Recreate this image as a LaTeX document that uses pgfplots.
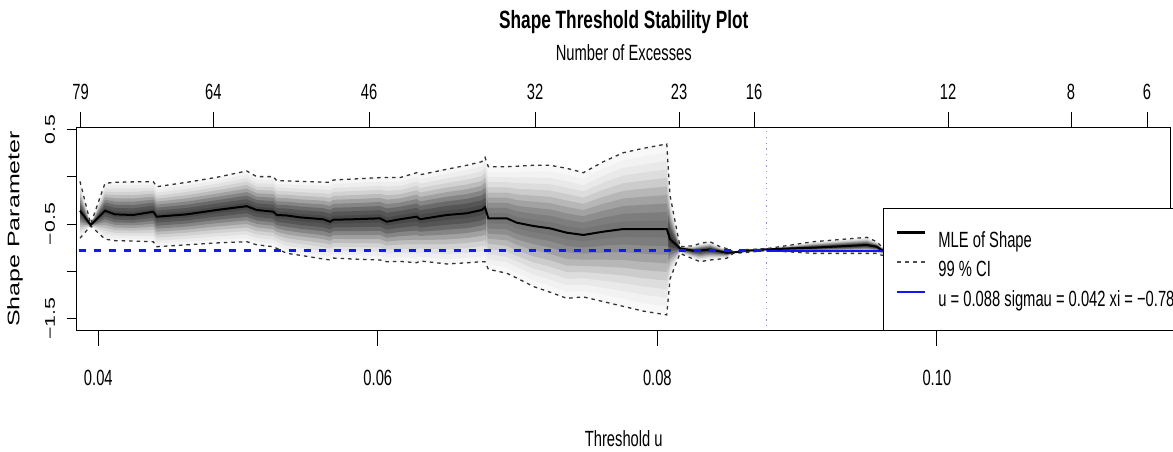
\documentclass[border=0pt]{standalone}
\usepackage{fontspec}
\setmainfont{Liberation Sans}
\newfontfamily\narrowfont{Liberation Sans}[FakeStretch=0.67]
\newfontfamily\titlefont{Liberation Sans}[FakeStretch=0.69]
\usepackage{graphicx}
\usepackage{xcolor}
\usepackage{pgfplots}
\pgfplotsset{compat=1.18}
\usepackage{pgfplotstable}
\usepgfplotslibrary{fillbetween}

\definecolor{rblue}{RGB}{20,20,255}
\definecolor{vline}{RGB}{140,140,255}
\newcommand\lab{\narrowfont\fontsize{22}{26}\selectfont}
\newcommand\rot[1]{\scalebox{1}[0.66]{#1}}

% threshold, MLE of shape, lower and upper 99% CI
\pgfplotstableread{
u m lo hi
0.038691 -0.360 -0.650 -0.050
0.039456 -0.510 -0.520 -0.500
0.040479 -0.360 -0.660 -0.070
0.041195 -0.398 -0.676 -0.060
0.042483 -0.405 -0.680 -0.055
0.043936 -0.370 -0.687 -0.053
0.044179 -0.423 -0.740 -0.106
0.046326 -0.398 -0.720 -0.060
0.048472 -0.352 -0.700 -0.007
0.050619 -0.312 -0.687 0.060
0.051335 -0.352 -0.720 0.000
0.052522 -0.370 -0.740 0.000
0.052766 -0.405 -0.757 -0.043
0.053481 -0.410 -0.810 -0.045
0.054433 -0.430 -0.830 -0.050
0.056100 -0.450 -0.870 -0.058
0.056580 -0.476 -0.880 -0.060
0.056816 -0.455 -0.860 -0.035
0.058247 -0.450 -0.870 -0.025
0.060157 -0.440 -0.880 -0.010
0.060637 -0.476 -0.898 -0.010
0.061589 -0.450 -0.895 -0.010
0.062784 -0.423 -0.909 0.042
0.063020 -0.450 -0.890 0.020
0.064930 -0.405 -0.922 0.078
0.066361 -0.387 -0.910 0.120
0.067435 -0.352 -0.898 0.158
0.067671 -0.324 -0.900 0.204
0.067907 -0.440 -0.978 0.105
0.069224 -0.440 -1.020 0.105
0.069939 -0.486 -1.070 0.110
0.071127 -0.521 -1.160 0.120
0.072322 -0.546 -1.220 0.120
0.073517 -0.592 -1.285 0.088
0.074705 -0.616 -1.270 0.042
0.076136 -0.581 -1.320 0.158
0.077567 -0.553 -1.370 0.253
0.078998 -0.553 -1.420 0.299
0.080673 -0.553 -1.460 0.345
0.080909 -0.660 -1.080 -0.200
0.081624 -0.757 -0.810 -0.740
0.082576 -0.782 -0.870 -0.730
0.083055 -0.780 -0.898 -0.705
0.083771 -0.770 -0.880 -0.687
0.084487 -0.790 -0.870 -0.740
0.084966 -0.803 -0.862 -0.760
0.085438 -0.800 -0.810 -0.792
0.086397 -0.782 -0.800 -0.770
0.087828 -0.767 -0.780 -0.760
0.091163 -0.750 -0.810 -0.687
0.094984 -0.722 -0.810 -0.641
0.095700 -0.740 -0.810 -0.687
0.096057 -0.775 -0.830 -0.740
0.097367 -0.780 -0.850 -0.710
0.100945 -0.770 -0.860 -0.680
0.104522 -0.780 -0.900 -0.660
}\data

% band boundaries: fraction of the distance from the MLE to the CI limits
\newcommand\bandpath[2]{%
  \addplot[draw=none, forget plot, name path=u#1] table[x=u, y expr=\thisrow{m}+#2*(\thisrow{hi}-\thisrow{m})] {\data};
  \addplot[draw=none, forget plot, name path=l#1] table[x=u, y expr=\thisrow{m}-#2*(\thisrow{m}-\thisrow{lo})] {\data};}
% one grey band (#1) between thresholds #2 and #3, darkness #4
\newcommand\greyband[4]{%
  \addplot[fill=black!#4, draw=none, forget plot] fill between[of=u#1 and l#1, soft clip={(axis cs:#2,-2) rectangle (axis cs:#3,1)}];}

\begin{document}
\begin{tikzpicture}

\begin{axis}[
  at={(0,0)}, anchor=south west,
  scale only axis, width=1094pt, height=203.4pt,
  xmin=0.038454, xmax=0.116737, ymin=-1.6267, ymax=0.5211,
  axis line style={line width=1.3pt},
  xtick=\empty,
  ytick={-1.5,-1,-0.5,0,0.5},
  yticklabels={\rot{−1.5},{},\rot{−0.5},{},\rot{0.5}},
  ytick pos=left, tick align=outside, major tick length=10pt,
  tick style={black, line width=0.8pt},
  yticklabel style={font=\fontsize{21.3}{25}\selectfont, xshift=-11.7pt, rotate=90, anchor=base},
  ylabel={\scalebox{1}[0.67]{Shape Parameter}},
  ylabel style={font=\fontsize{25}{30}\selectfont, at={(axis description cs:-0.0564,0.5)}, anchor=center},
  legend style={at={(0.737,0)}, anchor=south west, line width=0.8pt, fill=white,
    inner xsep=12pt, inner ysep=16.5pt, row sep=0pt, column sep=12pt, font=\lab,
    nodes={inner sep=0pt, text height=22pt, text depth=7.5pt}},
  legend cell align=left,
  legend image code/.code={\draw[#1] (0pt,7.5pt) -- (28pt,7.5pt);},
]
\bandpath{1}{1.0}
\bandpath{2}{0.9}
\bandpath{3}{0.8}
\bandpath{4}{0.7}
\bandpath{5}{0.6}
\bandpath{6}{0.5}
\bandpath{7}{0.4}
\bandpath{8}{0.3}
\bandpath{9}{0.2}
\bandpath{10}{0.1}
\greyband{1}{0.0384}{0.0678}{3.6}\greyband{2}{0.0384}{0.0678}{6.6}\greyband{3}{0.0384}{0.0678}{11.2}\greyband{4}{0.0384}{0.0678}{17.7}\greyband{5}{0.0384}{0.0678}{26.4}
\greyband{6}{0.0384}{0.0678}{36.8}\greyband{7}{0.0384}{0.0678}{48.0}\greyband{8}{0.0384}{0.0678}{58.5}\greyband{9}{0.0384}{0.0678}{66.8}\greyband{10}{0.0384}{0.0678}{71.4}
\greyband{1}{0.0678}{0.08079}{2.8}\greyband{2}{0.0678}{0.08079}{5.0}\greyband{3}{0.0678}{0.08079}{8.5}\greyband{4}{0.0678}{0.08079}{13.5}\greyband{5}{0.0678}{0.08079}{20.1}
\greyband{6}{0.0678}{0.08079}{28.1}\greyband{7}{0.0678}{0.08079}{36.6}\greyband{8}{0.0678}{0.08079}{44.7}\greyband{9}{0.0678}{0.08079}{51.0}\greyband{10}{0.0678}{0.08079}{54.6}
\greyband{1}{0.08079}{0.105}{3.9}\greyband{2}{0.08079}{0.105}{7.1}\greyband{3}{0.08079}{0.105}{12.1}\greyband{4}{0.08079}{0.105}{19.2}\greyband{5}{0.08079}{0.105}{28.5}
\greyband{6}{0.08079}{0.105}{39.9}\greyband{7}{0.08079}{0.105}{51.9}\greyband{8}{0.08079}{0.105}{63.4}\greyband{9}{0.08079}{0.105}{72.4}\greyband{10}{0.08079}{0.105}{77.4}

\addplot[black!80, line width=1.3pt, dash pattern=on 3.5pt off 4pt, forget plot] table[x=u, y=lo] {\data};
\addplot[black, line width=2pt, legend image post style={line width=3pt}] table[x=u, y=m] {\data};
\addlegendentry{MLE of Shape}
\addplot[black!80, line width=1.3pt, dash pattern=on 3.5pt off 4pt,
  legend image post style={black!70, line width=1.2pt, dash pattern=on 4pt off 4pt}] table[x=u, y=hi] {\data};
\addlegendentry{99 \% CI}

\addplot[rblue, line width=3.5pt, dash pattern=on 7pt off 8pt, forget plot] coordinates {(0.0386,-0.78) (0.0878,-0.78)};
\addplot[draw=rblue, line width=2pt,
  legend image code/.code={\draw[draw=rblue, line width=2pt] (0pt,7.5pt) -- (28pt,7.5pt);}] coordinates {(0.0878,-0.78) (0.117,-0.78)};
\addlegendentry{u = 0.088 sigmau = 0.042 xi = −0.78}
\addplot[vline, line width=1pt, dash pattern=on 1.2pt off 4.5pt, forget plot] coordinates {(0.0878,-1.7) (0.0878,0.6)};
\end{axis}

% threshold axis below
\begin{axis}[
  at={(0,0)}, anchor=south west,
  scale only axis, width=1094pt, height=203.4pt,
  xmin=0.038454, xmax=0.116737, ymin=-1.6267, ymax=0.5211,
  axis line style={draw=none}, ytick=\empty,
  xtick={0.04,0.06,0.08,0.10}, xticklabels={0.04,0.06,0.08,0.10},
  xtick pos=left, xticklabel pos=left, tick align=outside, major tick length=15pt,
  tick style={black, line width=0.8pt},
  xticklabel style={font=\lab, anchor=base, yshift=-40pt},
  xlabel={Threshold u},
  xlabel style={font=\lab, at={(axis description cs:0.5,0)}, anchor=base, yshift=-116pt},
]
\addplot[draw=none, forget plot] coordinates {(0.05,0) (0.06,0)};
\end{axis}

% number of excesses above
\begin{axis}[
  at={(0,0)}, anchor=south west,
  scale only axis, width=1094pt, height=203.4pt,
  xmin=0.038454, xmax=0.116737, ymin=-1.6267, ymax=0.5211,
  axis line style={draw=none}, ytick=\empty,
  xtick={0.03874,0.04823,0.05937,0.07125,0.08155,0.08692,0.1008,0.1096,0.11504},
  xticklabels={79,64,46,32,23,16,12,8,6},
  xtick pos=right, xticklabel pos=right, tick align=outside, major tick length=15pt,
  tick style={black, line width=0.8pt},
  xticklabel style={font=\lab, anchor=base, yshift=13pt},
  xlabel={Number of Excesses},
  xlabel style={font=\lab, at={(axis description cs:0.5,1)}, anchor=base, yshift=67pt},
  title={Shape Threshold Stability Plot},
  title style={font=\titlefont\bfseries\fontsize{25}{30}\selectfont, at={(axis description cs:0.5,1)}, anchor=base, yshift=93pt},
]
\addplot[draw=none, forget plot] coordinates {(0.05,0) (0.06,0)};
\end{axis}
\pgfresetboundingbox
\path[use as bounding box] (-76.7pt,-121.3pt) rectangle (1096.3pt,330.7pt);
\end{tikzpicture}
\end{document}
